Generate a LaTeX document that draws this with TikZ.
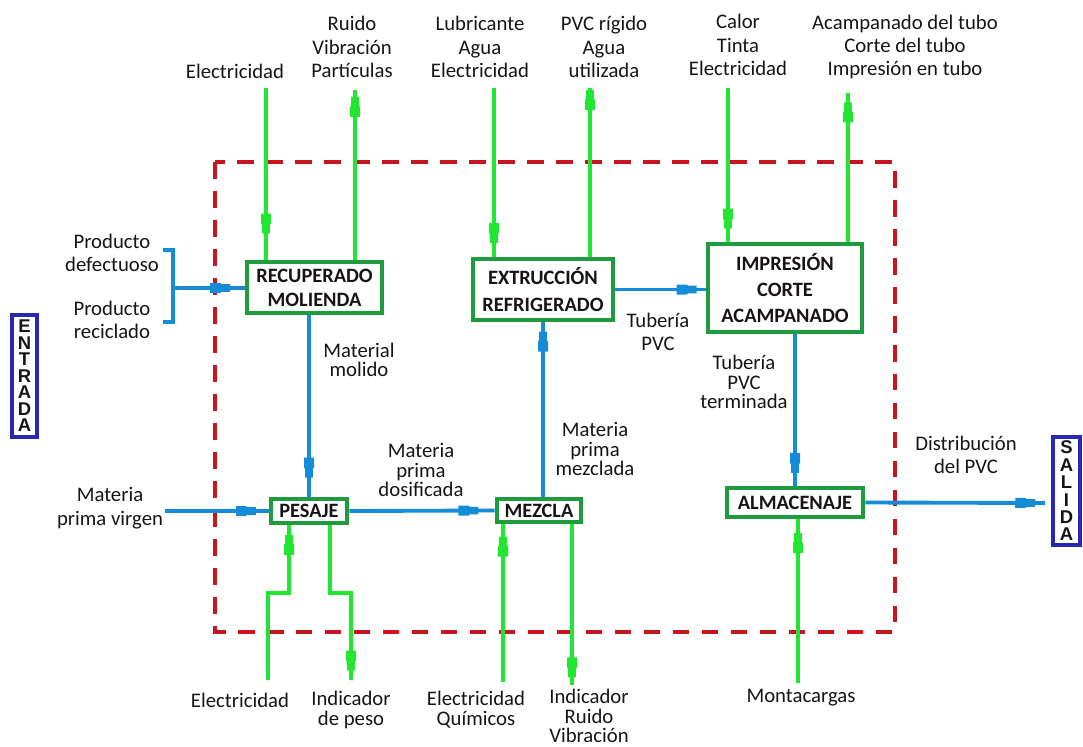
\documentclass[tikz,border=0pt]{standalone}
\usepackage{fontspec}
\setmainfont{Carlito}
\newfontfamily\iofont{Liberation Sans}
\usetikzlibrary{decorations.markings}
\newdimen\pxu \pxu=0.02cm
\definecolor{gline}{RGB}{34,230,50}
\definecolor{bline}{RGB}{20,140,215}
\definecolor{gbox}{RGB}{30,155,60}
\definecolor{rdash}{RGB}{200,20,30}
\definecolor{ebox}{RGB}{40,40,180}
\definecolor{txt}{RGB}{25,20,20}
\begin{document}
\begin{tikzpicture}[x=0.02cm,y=-0.02cm,
 gl/.style={color=gline,line width=2.2pt},
 bl/.style={color=bline,line width=2.2pt},
 mk/.style={postaction={decorate,decoration={markings,mark=at position #1 with {\fill (-10,-5) -- (0,-5) -- (1.5,-3.8) -- (10,-3.8) -- (10,3.8) -- (1.5,3.8) -- (0,5) -- (-10,5) -- cycle;}}}},
 box/.style={draw=gbox,line width=2.8pt,fill=white,inner sep=0pt,align=center,text=txt,font=\bfseries\fontsize{11.6}{14.5}\selectfont},
 lab/.style={align=center,text=txt,font=\fontsize{11.8}{11.2}\selectfont},
 tlab/.style={align=center,text=txt,font=\fontsize{11.8}{13.3}\selectfont},
 io/.style={draw=ebox,line width=2.2pt,inner sep=0pt,align=center,text=txt,font=\iofont\bfseries\fontsize{10.5}{9.4}\selectfont}]
\useasboundingbox (0,0) rectangle (1083,747);
% system boundary
\draw[rdash,line width=2.2pt,dash pattern=on 9.5pt off 7pt] (215,162) rectangle (895,632);
% process boxes
\node[box,minimum width=135\pxu,minimum height=51\pxu,font=\bfseries\fontsize{11.6}{13.6}\selectfont] (rec) at (314.5,287.5) {RECUPERADO\\MOLIENDA};
\node[box,minimum width=140\pxu,minimum height=61\pxu,font=\bfseries\fontsize{11.6}{15.3}\selectfont] (ext) at (543,289.5) {EXTRUCCIÓN\\REFRIGERADO};
\node[box,minimum width=154\pxu,minimum height=88\pxu,font=\bfseries\fontsize{11.6}{14.7}\selectfont] (imp) at (785,288) {IMPRESIÓN\\CORTE\\ACAMPANADO};
\node[box,minimum width=76\pxu,minimum height=24\pxu] (pes) at (309,511) {PESAJE};
\node[box,minimum width=84\pxu,minimum height=23\pxu] (mez) at (539,510.5) {MEZCLA};
\node[box,minimum width=136\pxu,minimum height=29\pxu] (alm) at (795,502.5) {ALMACENAJE};
% entrada / salida
\node[io,minimum width=25\pxu,minimum height=122\pxu] (ent) at (24.5,376) {E\\N\\T\\R\\A\\D\\A};
\node[io,minimum width=27\pxu,minimum height=108\pxu,font=\iofont\bfseries\fontsize{10.5}{9.9}\selectfont] (sal) at (1066.5,491) {S\\A\\L\\I\\D\\A};
% free ends
\coordinate (t1) at (266,88);
\coordinate (t2) at (355,90);
\coordinate (t3) at (494,88);
\coordinate (t4) at (590,88);
\coordinate (t5) at (728,88);
\coordinate (t6) at (848,93);
\coordinate (pd) at (163,250);
\coordinate (pr) at (163,322);
\coordinate (br) at (173,288);
\coordinate (mv) at (165,511);
\coordinate (sd) at (1045,503);
\coordinate (b1) at (268,680);
\coordinate (k1) at (289,593);
\coordinate (k2) at (330,593);
\coordinate (b2) at (351,680);
\coordinate (b3) at (503,682);
\coordinate (b4) at (572,685);
\coordinate (b5) at (798,683);
% green top connectors
\draw[gl,mk=0.79] (t1) -- (t1 |- rec.north);
\draw[gl,mk=0.90] (t2 |- rec.north) -- (t2);
\draw[gl,mk=0.86] (t3) -- (t3 |- ext.north);
\draw[gl,mk=0.93] (t4 |- ext.north) -- (t4);
\draw[gl,mk=0.85] (t5) -- (t5 |- imp.north);
\draw[gl,mk=0.87] (t6 |- imp.north) -- (t6);
% green bottom connectors
\draw[gl,mk=0.89] (b1) |- (k1) -- (k1 |- pes.south);
\draw[gl,mk=0.89] (k2 |- pes.south) -- (k2) -| (b2);
\draw[gl,mk=0.86] (b3) -- (b3 |- mez.south);
\draw[gl,mk=0.89] (b4 |- mez.south) -- (b4);
\draw[gl,mk=0.855] (b5) -- (b5 |- alm.south);
% blue material flow
\draw[bl] (pd) -| (br) |- (pr);
\draw[bl,mk=0.66] (br) -- (br -| rec.west);
\draw[bl,mk=0.84] (pes.north |- rec.south) -- (pes.north);
\draw[bl,mk=0.78] (mv) -- (pes.west);
\draw[bl,mk=0.82] (pes.east) -- (mez.west);
\draw[bl,mk=0.89] (mez.north -| ext.south) -- (ext.south);
\draw[bl,mk=0.79] (ext.east) -- (ext.east -| imp.west);
\draw[bl,mk=0.85] (alm.north |- imp.south) -- (alm.north);
\draw[bl,mk=0.89] (alm.east) -- (sd);
% top labels
\node[tlab] (l1) at (235,71) {Electricidad};
\node[tlab] (l2) at (352,47) {Ruido\\Vibración\\Partículas};
\node[tlab] (l3) at (480,47) {Lubricante\\Agua\\Electricidad};
\node[tlab] (l4) at (604,47) {PVC rígido\\Agua\\utilizada};
\node[tlab] (l5) at (738,45) {Calor\\Tinta\\Electricidad};
\node[tlab] (l6) at (905,47) {Acampanado del tubo\\Corte del tubo\\Impresión en tubo};
% side labels
\node[tlab] (l7) at (112,253) {Producto\\defectuoso};
\node[tlab] (l8) at (112,320) {Producto\\reciclado};
\node[tlab] (l9) at (110,508) {Materia\\prima virgen};
\node[lab] (l10) at (359,360) {Material\\molido};
\node[lab] (l11) at (421,470) {Materia\\prima\\dosificada};
\node[lab] (l12) at (595,449) {Materia\\prima\\mezclada};
\node[tlab] (l13) at (658,332) {Tubería\\PVC};
\node[lab] (l14) at (744,382) {Tubería\\PVC\\terminada};
\node[tlab] (l15) at (966,455) {Distribución\\del PVC};
% bottom labels
\node[tlab] (l16) at (240,700) {Electricidad};
\node[lab] (l17) at (351,710) {Indicador\\de peso};
\node[lab] (l18) at (476,710) {Electricidad\\Químicos};
\node[lab] (l19) at (589,716) {Indicador\\Ruido\\Vibración};
\node[tlab] (l20) at (801,698) {Montacargas};
\end{tikzpicture}
\end{document}
